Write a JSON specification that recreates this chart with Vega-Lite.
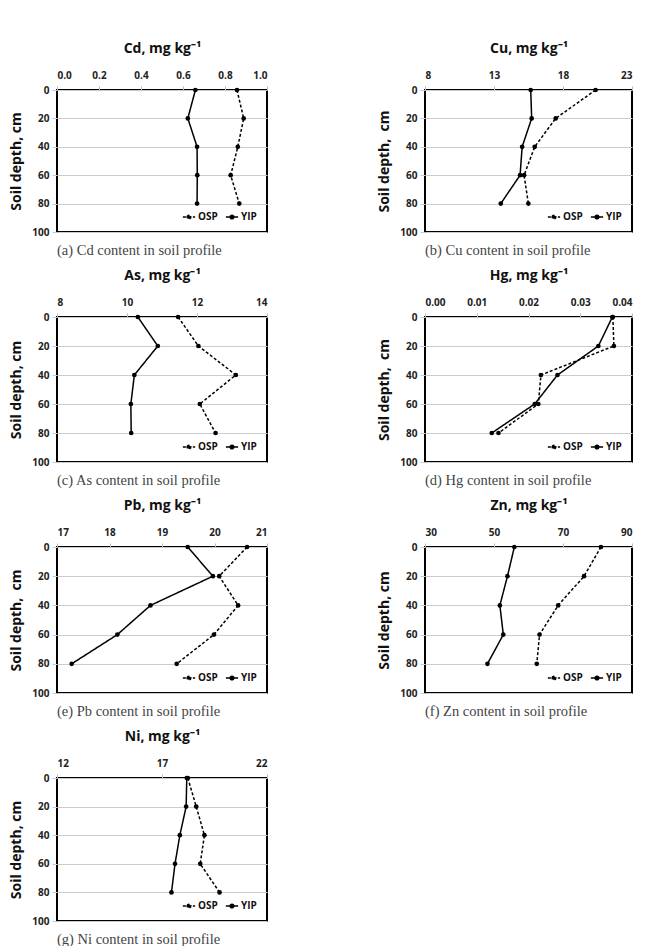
{
  "$schema": "https://vega.github.io/schema/vega-lite/v6.json",
  "padding": {"left": 8, "top": 40, "right": 5, "bottom": 0},
  "background": "white",
  "columns": 2,
  "bounds": "flush",
  "spacing": {"row": 85, "column": 158},
  "resolve": {"scale": {"x": "independent", "strokeDash": "independent"}, "legend": {"strokeDash": "independent"}},
  "datasets": {
    "soil": [
      {"metal": "Cd", "site": "OSP", "depth": 0, "value": 0.857},
      {"metal": "Cd", "site": "OSP", "depth": 20, "value": 0.889},
      {"metal": "Cd", "site": "OSP", "depth": 40, "value": 0.861},
      {"metal": "Cd", "site": "OSP", "depth": 60, "value": 0.827},
      {"metal": "Cd", "site": "OSP", "depth": 80, "value": 0.868},
      {"metal": "Cd", "site": "YIP", "depth": 0, "value": 0.659},
      {"metal": "Cd", "site": "YIP", "depth": 20, "value": 0.623},
      {"metal": "Cd", "site": "YIP", "depth": 40, "value": 0.667},
      {"metal": "Cd", "site": "YIP", "depth": 60, "value": 0.668},
      {"metal": "Cd", "site": "YIP", "depth": 80, "value": 0.667},
      {"metal": "Cu", "site": "OSP", "depth": 0, "value": 20.36},
      {"metal": "Cu", "site": "OSP", "depth": 20, "value": 17.47},
      {"metal": "Cu", "site": "OSP", "depth": 40, "value": 15.95},
      {"metal": "Cu", "site": "OSP", "depth": 60, "value": 15.18},
      {"metal": "Cu", "site": "OSP", "depth": 80, "value": 15.49},
      {"metal": "Cu", "site": "YIP", "depth": 0, "value": 15.66},
      {"metal": "Cu", "site": "YIP", "depth": 20, "value": 15.73},
      {"metal": "Cu", "site": "YIP", "depth": 40, "value": 15.04},
      {"metal": "Cu", "site": "YIP", "depth": 60, "value": 14.89},
      {"metal": "Cu", "site": "YIP", "depth": 80, "value": 13.49},
      {"metal": "As", "site": "OSP", "depth": 0, "value": 11.46},
      {"metal": "As", "site": "OSP", "depth": 20, "value": 12.04},
      {"metal": "As", "site": "OSP", "depth": 40, "value": 13.11},
      {"metal": "As", "site": "OSP", "depth": 60, "value": 12.08},
      {"metal": "As", "site": "OSP", "depth": 80, "value": 12.53},
      {"metal": "As", "site": "YIP", "depth": 0, "value": 10.31},
      {"metal": "As", "site": "YIP", "depth": 20, "value": 10.88},
      {"metal": "As", "site": "YIP", "depth": 40, "value": 10.21},
      {"metal": "As", "site": "YIP", "depth": 60, "value": 10.11},
      {"metal": "As", "site": "YIP", "depth": 80, "value": 10.12},
      {"metal": "Hg", "site": "OSP", "depth": 0, "value": 0.0363},
      {"metal": "Hg", "site": "OSP", "depth": 20, "value": 0.0365},
      {"metal": "Hg", "site": "OSP", "depth": 40, "value": 0.0224},
      {"metal": "Hg", "site": "OSP", "depth": 60, "value": 0.0219},
      {"metal": "Hg", "site": "OSP", "depth": 80, "value": 0.0142},
      {"metal": "Hg", "site": "YIP", "depth": 0, "value": 0.0362},
      {"metal": "Hg", "site": "YIP", "depth": 20, "value": 0.0335},
      {"metal": "Hg", "site": "YIP", "depth": 40, "value": 0.0256},
      {"metal": "Hg", "site": "YIP", "depth": 60, "value": 0.0212},
      {"metal": "Hg", "site": "YIP", "depth": 80, "value": 0.0129},
      {"metal": "Pb", "site": "OSP", "depth": 0, "value": 20.62},
      {"metal": "Pb", "site": "OSP", "depth": 20, "value": 20.09},
      {"metal": "Pb", "site": "OSP", "depth": 40, "value": 20.45},
      {"metal": "Pb", "site": "OSP", "depth": 60, "value": 19.99},
      {"metal": "Pb", "site": "OSP", "depth": 80, "value": 19.28},
      {"metal": "Pb", "site": "YIP", "depth": 0, "value": 19.49},
      {"metal": "Pb", "site": "YIP", "depth": 20, "value": 19.97},
      {"metal": "Pb", "site": "YIP", "depth": 40, "value": 18.78},
      {"metal": "Pb", "site": "YIP", "depth": 60, "value": 18.15},
      {"metal": "Pb", "site": "YIP", "depth": 80, "value": 17.28},
      {"metal": "Zn", "site": "OSP", "depth": 0, "value": 81.0},
      {"metal": "Zn", "site": "OSP", "depth": 20, "value": 76.1},
      {"metal": "Zn", "site": "OSP", "depth": 40, "value": 68.6},
      {"metal": "Zn", "site": "OSP", "depth": 60, "value": 63.2},
      {"metal": "Zn", "site": "OSP", "depth": 80, "value": 62.4},
      {"metal": "Zn", "site": "YIP", "depth": 0, "value": 55.9},
      {"metal": "Zn", "site": "YIP", "depth": 20, "value": 53.9},
      {"metal": "Zn", "site": "YIP", "depth": 40, "value": 51.7},
      {"metal": "Zn", "site": "YIP", "depth": 60, "value": 52.7},
      {"metal": "Zn", "site": "YIP", "depth": 80, "value": 48.1},
      {"metal": "Ni", "site": "OSP", "depth": 0, "value": 18.23},
      {"metal": "Ni", "site": "OSP", "depth": 20, "value": 18.63},
      {"metal": "Ni", "site": "OSP", "depth": 40, "value": 19.02},
      {"metal": "Ni", "site": "OSP", "depth": 60, "value": 18.82},
      {"metal": "Ni", "site": "OSP", "depth": 80, "value": 19.74},
      {"metal": "Ni", "site": "YIP", "depth": 0, "value": 18.18},
      {"metal": "Ni", "site": "YIP", "depth": 20, "value": 18.15},
      {"metal": "Ni", "site": "YIP", "depth": 40, "value": 17.85},
      {"metal": "Ni", "site": "YIP", "depth": 60, "value": 17.62},
      {"metal": "Ni", "site": "YIP", "depth": 80, "value": 17.45}
    ]
  },
  "data": {"name": "soil"},
  "concat": [
    {
      "title": "(a) Cd content in soil profile",
      "width": 210, "height": 142,
      "transform": [{"filter": "datum.metal === 'Cd'"}],
      "mark": {"type": "line", "point": {"filled": true, "size": 22, "color": "black"}},
      "encoding": {
        "x": {"field": "value", "type": "quantitative", "scale": {"domain": [0, 1], "nice": false, "zero": false}, "axis": {"title": "Cd, mg kg⁻¹", "values": [0, 0.2, 0.4, 0.6, 0.8, 1], "format": ".1f"}},
        "y": {"field": "depth", "type": "quantitative", "scale": {"domain": [0, 100], "reverse": true, "nice": false}, "axis": {"title": "Soil depth, cm"}},
        "order": {"field": "depth", "type": "quantitative"},
        "strokeDash": {"field": "site", "type": "nominal", "scale": {"domain": ["OSP", "YIP"], "range": [[3, 2], [1, 0]]}}
      }
    },
    {
      "title": "(b) Cu content in soil profile",
      "width": 207, "height": 142,
      "transform": [{"filter": "datum.metal === 'Cu'"}],
      "mark": {"type": "line", "point": {"filled": true, "size": 22, "color": "black"}},
      "encoding": {
        "x": {"field": "value", "type": "quantitative", "scale": {"domain": [8, 23], "nice": false, "zero": false}, "axis": {"title": "Cu, mg kg⁻¹", "values": [8, 13, 18, 23]}},
        "y": {"field": "depth", "type": "quantitative", "scale": {"domain": [0, 100], "reverse": true, "nice": false}, "axis": {"title": "Soil depth, \u00a0cm"}},
        "order": {"field": "depth", "type": "quantitative"},
        "strokeDash": {"field": "site", "type": "nominal", "scale": {"domain": ["OSP", "YIP"], "range": [[3, 2], [1, 0]]}}
      }
    },
    {
      "title": "(c) As content in soil profile",
      "width": 210, "height": 145,
      "transform": [{"filter": "datum.metal === 'As'"}],
      "mark": {"type": "line", "point": {"filled": true, "size": 22, "color": "black"}},
      "encoding": {
        "x": {"field": "value", "type": "quantitative", "scale": {"domain": [8, 14], "nice": false, "zero": false}, "axis": {"title": "As, mg kg⁻¹", "values": [8, 10, 12, 14]}},
        "y": {"field": "depth", "type": "quantitative", "scale": {"domain": [0, 100], "reverse": true, "nice": false}, "axis": {"title": "Soil depth, cm"}},
        "order": {"field": "depth", "type": "quantitative"},
        "strokeDash": {"field": "site", "type": "nominal", "scale": {"domain": ["OSP", "YIP"], "range": [[3, 2], [1, 0]]}}
      }
    },
    {
      "title": "(d) Hg content in soil profile",
      "width": 207, "height": 145,
      "transform": [{"filter": "datum.metal === 'Hg'"}],
      "mark": {"type": "line", "point": {"filled": true, "size": 22, "color": "black"}},
      "encoding": {
        "x": {"field": "value", "type": "quantitative", "scale": {"domain": [0, 0.04], "nice": false, "zero": false}, "axis": {"title": "Hg, mg kg⁻¹", "values": [0, 0.01, 0.02, 0.03, 0.04], "format": ".2f"}},
        "y": {"field": "depth", "type": "quantitative", "scale": {"domain": [0, 100], "reverse": true, "nice": false}, "axis": {"title": "Soil depth, \u00a0cm"}},
        "order": {"field": "depth", "type": "quantitative"},
        "strokeDash": {"field": "site", "type": "nominal", "scale": {"domain": ["OSP", "YIP"], "range": [[3, 2], [1, 0]]}}
      }
    },
    {
      "title": "(e) Pb content in soil profile",
      "width": 210, "height": 146,
      "transform": [{"filter": "datum.metal === 'Pb'"}],
      "mark": {"type": "line", "point": {"filled": true, "size": 22, "color": "black"}},
      "encoding": {
        "x": {"field": "value", "type": "quantitative", "scale": {"domain": [17, 21], "nice": false, "zero": false}, "axis": {"title": "Pb, mg kg⁻¹", "values": [17, 18, 19, 20, 21]}},
        "y": {"field": "depth", "type": "quantitative", "scale": {"domain": [0, 100], "reverse": true, "nice": false}, "axis": {"title": "Soil depth, \u00a0cm"}},
        "order": {"field": "depth", "type": "quantitative"},
        "strokeDash": {"field": "site", "type": "nominal", "scale": {"domain": ["OSP", "YIP"], "range": [[3, 2], [1, 0]]}}
      }
    },
    {
      "title": "(f) Zn content in soil profile",
      "width": 207, "height": 146,
      "transform": [{"filter": "datum.metal === 'Zn'"}],
      "mark": {"type": "line", "point": {"filled": true, "size": 22, "color": "black"}},
      "encoding": {
        "x": {"field": "value", "type": "quantitative", "scale": {"domain": [30, 90], "nice": false, "zero": false}, "axis": {"title": "Zn, mg kg⁻¹", "values": [30, 50, 70, 90]}},
        "y": {"field": "depth", "type": "quantitative", "scale": {"domain": [0, 100], "reverse": true, "nice": false}, "axis": {"title": "Soil depth, cm"}},
        "order": {"field": "depth", "type": "quantitative"},
        "strokeDash": {"field": "site", "type": "nominal", "scale": {"domain": ["OSP", "YIP"], "range": [[3, 2], [1, 0]]}}
      }
    },
    {
      "title": "(g) Ni content in soil profile",
      "width": 210, "height": 143,
      "transform": [{"filter": "datum.metal === 'Ni'"}],
      "mark": {"type": "line", "point": {"filled": true, "size": 22, "color": "black"}},
      "encoding": {
        "x": {"field": "value", "type": "quantitative", "scale": {"domain": [12, 22], "nice": false, "zero": false}, "axis": {"title": "Ni, mg kg⁻¹", "values": [12, 17, 22]}},
        "y": {"field": "depth", "type": "quantitative", "scale": {"domain": [0, 100], "reverse": true, "nice": false}, "axis": {"title": "Soil depth, cm"}},
        "order": {"field": "depth", "type": "quantitative"},
        "strokeDash": {"field": "site", "type": "nominal", "scale": {"domain": ["OSP", "YIP"], "range": [[3, 2], [1, 0]]}}
      }
    }
  ],
  "config": {
    "font": "Open Sans",
    "view": {"stroke": "black", "strokeWidth": 2},
    "line": {"color": "black", "strokeWidth": 1.5},
    "axisX": {
      "orient": "top", "grid": false, "domain": false,
      "tickSize": 4, "tickColor": "#bbbbbb", "labelPadding": 6,
      "labelFont": "Open Sans", "labelFontWeight": "bold", "labelFontSize": 10, "labelColor": "#222222",
      "titleFont": "Open Sans", "titleFontWeight": "bold", "titleFontSize": 14, "titleColor": "#111111", "titlePadding": 15
    },
    "axisY": {
      "grid": true, "gridColor": "#cccccc", "domain": false,
      "tickSize": 5, "tickColor": "#cccccc", "labelPadding": 3,
      "values": [0, 20, 40, 60, 80, 100],
      "labelFont": "Open Sans", "labelFontWeight": "bold", "labelFontSize": 10, "labelColor": "#222222",
      "titleFont": "Open Sans", "titleFontWeight": "bold", "titleFontSize": 14, "titleColor": "#111111", "titlePadding": 8
    },
    "title": {
      "orient": "bottom", "anchor": "start", "frame": "group", "font": "Liberation Serif", "fontSize": 14.5,
      "fontWeight": "normal", "color": "#444444", "offset": 7
    },
    "legend": {
      "orient": "bottom-right", "direction": "horizontal", "title": null,
      "offset": 10, "padding": 0, "columnPadding": 4,
      "labelFont": "Open Sans", "labelFontWeight": "bold", "labelFontSize": 10, "labelColor": "#111111", "labelOffset": 2,
      "symbolType": "M-1,0H1M-0.3,0A0.3,0.3,0,1,1,0.3,0A0.3,0.3,0,1,1,-0.3,0Z",
      "symbolSize": 150, "symbolStrokeColor": "black", "symbolFillColor": "black", "symbolStrokeWidth": 1.5
    }
  }
}
